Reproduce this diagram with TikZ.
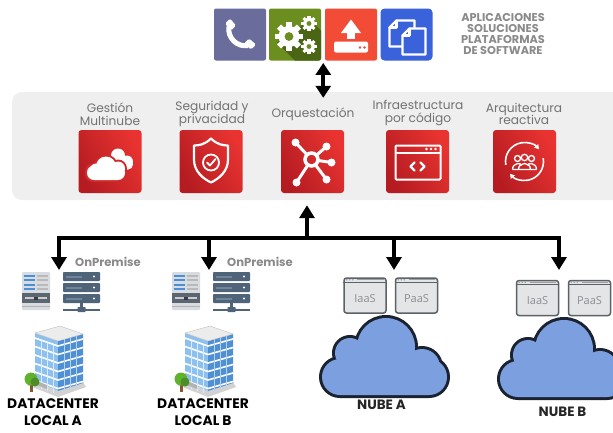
\documentclass[tikz,border=0pt]{standalone}
\usepackage{fontspec}
\setmainfont{Poppins}
\newfontfamily\winfont{Open Sans}
\usetikzlibrary{arrows.meta,calc,fit}

\definecolor{panelgray}{HTML}{EFEFEF}
\definecolor{labelgray}{HTML}{727272}
\definecolor{tagtext}{HTML}{8A8A8A}
\definecolor{phonebg}{HTML}{6A6C9C}
\definecolor{gearbg}{HTML}{6B8E1E}
\definecolor{gearshadow}{HTML}{4A6614}
\definecolor{uploadbg}{HTML}{F24C36}
\definecolor{docbg}{HTML}{3A62DA}
\definecolor{redA}{HTML}{B51C22}
\definecolor{redB}{HTML}{E83330}
\definecolor{redmid}{HTML}{D22A2B}
\definecolor{cloudfill}{HTML}{7C9FE0}
\definecolor{cloudline}{HTML}{1B2330}
\definecolor{winfill}{HTML}{E3E5E6}
\definecolor{winline}{HTML}{5C6268}
\definecolor{wintext}{HTML}{8A8F94}
\definecolor{rackblue}{HTML}{4F6479}
\definecolor{racklight}{HTML}{70849A}
\definecolor{towergray}{HTML}{D8DCE0}
\definecolor{towerdark}{HTML}{5B6670}
\definecolor{stripeblue}{HTML}{4A90D9}
\definecolor{glassA}{HTML}{8CC0EE}
\definecolor{glassB}{HTML}{4F8FD3}
\definecolor{treegreen}{HTML}{5FB12E}

% gear: centre x, centre y, body radius
\newcommand\drawgear[3]{%
  \foreach \ang in {0,45,...,315}{%
    \fill[white, shift={(#1,#2)}, rotate=\ang] (-0.27*#3,0) rectangle (0.27*#3,1.34*#3);}
  \fill[white] (#1,#2) circle (#3);
  \fill[gearbg] (#1,#2) circle (0.42*#3);}

% tower server, top-left corner
\newcommand\drawtower[2]{%
  \begin{scope}[shift={(#1,#2)}]
    \fill[towergray, rounded corners=1pt] (0,0) rectangle (28,38);
    \foreach \r in {0,1,2,3}{%
      \fill[stripeblue] (2,2.5+4.5*\r) rectangle (13,4.5+4.5*\r);
      \fill[gray!55] (14.5,2.5+4.5*\r) rectangle (26,4.5+4.5*\r);}
    \fill[towerdark] (0,21) rectangle (28,31);
    \fill[gray!40] (3,25) rectangle (25,27);
    \fill[towerdark!60!black] (12,24.5) rectangle (16,27.5);
    \draw[gray!60, line width=0.6pt] (0,34.5) -- (28,34.5);
  \end{scope}}

% rack server, top-left corner
\newcommand\drawrack[2]{%
  \begin{scope}[shift={(#1,#2)}]
    \foreach \u in {0,11,22}{%
      \fill[rackblue, rounded corners=0.8pt] (0,\u) rectangle (37,\u+9);
      \fill[racklight] (3,\u+3.5) rectangle (19,\u+5.5);
      \fill[white] (31,\u+4.5) circle (1.2);}
    \fill[rackblue] (17,31) rectangle (20,36);
    \fill[rackblue] (0,37) rectangle (37,38.5);
    \fill[rackblue, rounded corners=0.6pt] (14.5,35) rectangle (22.5,40);
  \end{scope}}

% office building with a tree, top-left corner
\newcommand\drawbuilding[2]{%
  \begin{scope}[shift={(#1,#2)}]
    \fill[gray!35] (2,60) -- (33,72) -- (61,62) -- (58,57) -- (33,66) -- (8,56) -- cycle;
    \fill[glassA] (10,8) -- (33,16) -- (33,66) -- (10,56) -- cycle;
    \fill[glassB] (33,16) -- (58,9) -- (58,58) -- (33,66) -- cycle;
    \foreach \f in {0,1,2,3,4,5}{%
      \draw[white, line width=1.6pt] (10,13+8.5*\f) -- (33,21+8.5*\f) -- (58,14+8.5*\f);}
    \foreach \m in {16,22,28}{%
      \draw[white!70!glassA, line width=0.6pt] (\m,10+0.35*\m) -- (\m,58+0.35*\m);}
    \foreach \m in {39,45,51}{%
      \draw[white!60!glassB, line width=0.6pt] (\m,16-0.28*\m+9) -- (\m,66-0.28*\m+9);}
    \fill[gray!15, draw=gray!50, line width=0.4pt] (10,8) -- (35,1) -- (58,9) -- (33,16) -- cycle;
    \fill[gray!60] (12,56) -- (22,60) -- (22,64) -- (12,60) -- cycle;
    \fill[brown!70!black] (4.5,58) rectangle (7.5,67);
    \fill[treegreen] (6,54) circle (6.5);
    \fill[treegreen!80!black] (10,57) circle (4.5);
  \end{scope}}

% cloud: every part is stroked wide first, then every part is filled
\newcommand\drawcloud[2]{%
  \begin{scope}[shift={(#1,#2)}]
    \begin{scope}[draw=cloudline, line width=6pt]
      \draw[rounded corners=18pt] (0,44) rectangle (125,80);
      \draw (28,38) circle (15);
      \draw (64,32) circle (29);
      \draw (100,52) circle (18);
    \end{scope}
    \fill[cloudfill, rounded corners=18pt] (0,44) rectangle (125,80);
    \fill[cloudfill] (28,38) circle (15);
    \fill[cloudfill] (64,32) circle (29);
    \fill[cloudfill] (100,52) circle (18);
  \end{scope}}

\begin{document}
\begin{tikzpicture}[x=1pt,y=-1pt,
  topicon/.style={minimum size=52pt, inner sep=0pt, rounded corners=2pt},
  redicon/.style={minimum size=63pt, inner sep=0pt, rounded corners=3pt,
    left color=redA, right color=redB, shading angle=120},
  paneltext/.style={text=labelgray, align=center, inner sep=0pt,
    font=\fontsize{12.2}{12.5}\selectfont},
  tagline/.style={text=tagtext, align=center, inner sep=0pt,
    font=\bfseries\fontsize{11.3}{11.3}\selectfont},
  onprem/.style={text=tagtext, inner sep=0pt, font=\bfseries\fontsize{11.6}{12}\selectfont},
  dclabel/.style={align=center, inner sep=0pt, font=\bfseries\fontsize{13.8}{17}\selectfont},
  nubelabel/.style={inner sep=0pt, text=black!85, font=\bfseries\fontsize{13.5}{14}\selectfont},
  winbox/.style={minimum width=42pt, minimum height=35pt, inner sep=0pt,
    fill=winfill, draw=winline, line width=1.5pt, rounded corners=2.5pt},
  wintag/.style={text=wintext, inner sep=0pt, font=\winfont\fontsize{11}{12}\selectfont},
  bus/.style={line width=4pt, draw=black},
  arrowend/.style={-{Triangle[width=15pt,length=13pt]}},
  glyph/.style={white, line width=2.2pt, line join=round, line cap=round}]

\useasboundingbox (0,0) rectangle (613,432);
\fill[white] (0,0) rectangle (613,432);

% ---------- application strip ----------
\node[topicon, fill=phonebg] (phone) at (240,34.5) {};
\node[topicon, fill=gearbg] (gears) at (295,34.5) {};
\node[topicon, fill=uploadbg] (upload) at (351,34.5) {};
\node[topicon, fill=docbg, rounded corners=4pt] (docs) at (406.5,34.5) {};
\node[fit=(phone)(docs), inner sep=0pt] (apps) {};

\begin{scope}[shift={(phone.center)}]
  \draw[white, line width=5pt] (-11,-8) .. controls (-13,3) and (-3,13) .. (8,11);
  \fill[white, rounded corners=1.5pt] (-15,-11) -- (-10,-16) -- (-4,-9) -- (-9,-4) -- cycle;
  \fill[white, rounded corners=1.5pt] (11,15) -- (16,10) -- (9,4) -- (4,9) -- cycle;
\end{scope}

\begin{scope}[shift={(gears.center)}]
  \clip[rounded corners=2pt] (-26,-26) rectangle (26,26);
  \fill[gearshadow] (-18,8) -- (4,-6) -- (12,-17) -- (26,-4) -- (26,26) -- (0,26) -- cycle;
  \drawgear{-6}{2}{10.5}
  \drawgear{14}{-11}{5.8}
  \drawgear{14}{12}{5.8}
\end{scope}

\begin{scope}[shift={(upload.center)}]
  \fill[white] (-10,-1.5) -- (0,-15) -- (10,-1.5) -- cycle;
  \fill[white] (-4,-2) rectangle (4,4);
  \fill[white, rounded corners=2pt] (-17,7) rectangle (17,18);
  \fill[uploadbg] (9,13) circle (1.4) (13.5,13) circle (1.4);
\end{scope}

\begin{scope}[shift={(docs.center)}]
  \draw[glyph] (-10,-14) -- (8,-14) -- (8,12) -- (-17,12) -- (-17,-7) -- cycle;
  \draw[glyph] (-10,-14) -- (-10,-7) -- (-17,-7);
  \filldraw[glyph, fill=docbg] (3,-6) -- (19,-6) -- (19,20) -- (-4,20) -- (-4,1) -- cycle;
  \draw[glyph] (3,-6) -- (3,1) -- (-4,1);
\end{scope}

\node[tagline] (tag) at (503,34) {APLICACIONES\\SOLUCIONES\\PLATAFORMAS\\DE SOFTWARE};

% ---------- capabilities panel ----------
\node[fill=panelgray, rounded corners=10pt, minimum width=640pt, minimum height=108pt,
  inner sep=0pt] (panel) at (332,146) {};

\draw[bus, {Triangle[width=15pt,length=12pt]}-{Triangle[width=15pt,length=12pt]}]
  ($(apps.south)+(0,2)$) -- ($(apps.south |- panel.north)+(0,6)$);

\node[paneltext] (capA) at (110,114) {Gestión\\Multinube};
\node[paneltext] (capB) at (212,114) {Seguridad y\\privacidad};
\node[paneltext] (capC) at (313,114) {Orquestación};
\node[paneltext] (capD) at (418,113) {Infraestructura\\por código};
\node[paneltext] (capE) at (524,114) {Arquitectura\\reactiva};

\node[redicon] (icA) at (110,161.5) {};
\node[redicon] (icB) at (211,161.5) {};
\node[redicon] (icC) at (312.5,161.5) {};
\node[redicon] (icD) at (417.5,161.5) {};
\node[redicon] (icE) at (524.5,161.5) {};

% multicloud
\begin{scope}[shift={(icA.center)}]
  \fill[white, rounded corners=5pt] (0,-2) rectangle (23,8);
  \fill[white] (8,-6) circle (7);
  \fill[white] (17,0) circle (6);
  \fill[redmid, rounded corners=8pt] (-25,2) rectangle (17,20.5);
  \fill[redmid] (-4,5) circle (12);
  \fill[redmid] (8,7) circle (9);
  \fill[white, rounded corners=7pt] (-23,4) rectangle (15,18.5);
  \fill[white] (-4,5) circle (10);
  \fill[white] (-14,8) circle (6);
  \fill[white] (8,7) circle (7);
\end{scope}

% security
\begin{scope}[shift={(icB.center)}]
  \draw[glyph] (0,-23) .. controls (-6,-17) and (-12,-16) .. (-17,-16) -- (-17,-2)
    .. controls (-17,10) and (-8,17) .. (0,21) .. controls (8,17) and (17,10) .. (17,-2)
    -- (17,-16) .. controls (12,-16) and (6,-17) .. (0,-23) -- cycle;
  \draw[white, line width=1.8pt] (0,1) circle (8);
  \draw[glyph, line width=1.8pt] (-4,1) -- (-1,4) -- (4.5,-2.5);
\end{scope}

% orchestration hub
\begin{scope}[shift={(icC.center)}]
  \foreach \p in {(-17,-19),(14,-15),(19,1),(14,18),(-16,21)}{%
    \draw[white, line width=3pt] (-1,-2) -- \p;
    \fill[white] \p circle (4);}
  \fill[redmid] (-1,-2) circle (5);
  \draw[white, line width=3.5pt] (-1,-2) circle (6.5);
\end{scope}

% infrastructure as code
\begin{scope}[shift={(icD.center)}]
  \draw[white, line width=2pt, rounded corners=1pt] (-22,-16) rectangle (23,18);
  \draw[white, line width=2pt] (-22,-8.5) -- (23,-8.5);
  \fill[white] (9,-12.5) circle (1.3) (13.5,-12.5) circle (1.3) (18,-12.5) circle (1.3);
  \draw[glyph, line width=2.4pt] (-3,1) -- (-7,5) -- (-3,9);
  \draw[glyph, line width=2.4pt] (3,1) -- (7,5) -- (3,9);
\end{scope}

% reactive architecture
\begin{scope}[shift={(icE.center)}]
  \draw[white, line width=1.6pt, -{Triangle[length=4.5pt,width=5pt]}] (170:19) arc (170:320:19);
  \draw[white, line width=1.6pt, -{Triangle[length=4.5pt,width=5pt]}] (-10:19) arc (-10:140:19);
  \draw[white, line width=1.3pt] (-7,-3) circle (3) (7,-3) circle (3) (0,-4) circle (3.2);
  \draw[white, line width=1.3pt, line join=round]
    (-12,8) .. controls (-12,1) and (-3,1) .. (-3,4)
    (3,4) .. controls (3,1) and (12,1) .. (12,8)
    (-6,8) .. controls (-6,0) and (6,0) .. (6,8)
    (-12,8) -- (12,8);
\end{scope}

% ---------- distribution bus ----------
\coordinate (busL) at (59,238);
\coordinate (busB) at (209,238);
\coordinate (busM) at (307,238);
\coordinate (busC) at (394,238);
\coordinate (busR) at (559,238);
\coordinate (toA) at (59,270);
\coordinate (toB) at (209,270);
\coordinate (toC) at (394,270);
\coordinate (toD) at (559,270);

\draw[bus, line cap=rect] (busL) -- (busR);
\draw[bus, arrowend] (busM) -- ($(busM |- panel.south)+(0,5)$);
\draw[bus, arrowend] (busL) -- (toA);
\draw[bus, arrowend] (busB) -- (toB);
\draw[bus, arrowend] (busC) -- (toC);
\draw[bus, arrowend] (busR) -- (toD);

% ---------- on-premise datacenters ----------
\drawtower{22}{272}
\drawrack{63}{272}
\drawbuilding{25}{325}
\node[onprem] (opA) at (108,262) {OnPremise};
\node[dclabel] (dcA) at (53,412.5) {DATACENTER\\LOCAL A};

\drawtower{172}{272}
\drawrack{213}{272}
\drawbuilding{175}{325}
\node[onprem] (opB) at (260,262) {OnPremise};
\node[dclabel] (dcB) at (203,412.5) {DATACENTER\\LOCAL B};

% ---------- public clouds ----------
\drawcloud{322}{315}
\drawcloud{500}{317}

\foreach \nm/\cx/\cy/\txt in {iaasA/365/295.5/IaaS, paasA/416.5/295.5/PaaS,
                             iaasB/537.5/298/IaaS, paasB/589.5/298/PaaS}{%
  \node[winbox] (\nm) at (\cx,\cy) {};
  \draw[winline, line width=1.2pt] ($(\nm.north west)+(0,5)$) -- ($(\nm.north east)+(0,5)$);
  \fill[winline!60] ($(\nm.north west)+(3.5,2.5)$) circle (0.9) ($(\nm.north west)+(6.5,2.5)$) circle (0.9)
    ($(\nm.north west)+(9.5,2.5)$) circle (0.9);
  \draw[winline!60, line width=1pt] ($(\nm.north west)+(14,2.5)$) -- ($(\nm.north east)+(-3,2.5)$);
  \node[wintag] (\nm-t) at ($(\nm.center)+(0,3)$) {\txt};
}

\node[nubelabel] (nubeA) at (381.5,405) {NUBE A};
\node[nubelabel] (nubeB) at (562.5,412) {NUBE B};

\end{tikzpicture}
\end{document}
